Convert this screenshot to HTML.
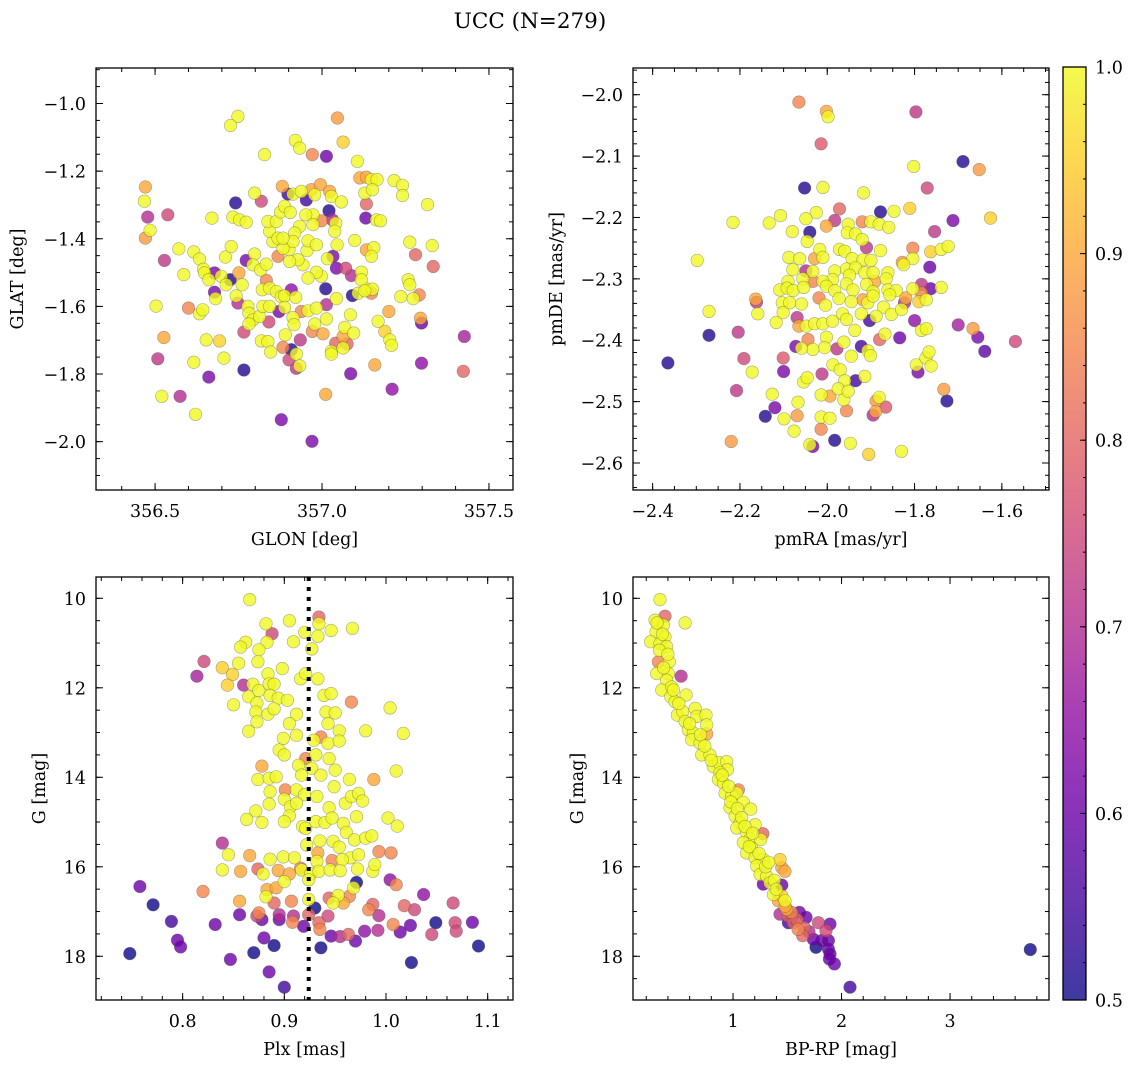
<!DOCTYPE html>
<html><head><meta charset="utf-8"><title>UCC (N=279)</title>
<style>
html,body{margin:0;padding:0;background:#fff;}
svg{display:block;font-family:"DejaVu Serif","Liberation Serif",serif;}
</style></head>
<body>
<svg id="fig" xmlns="http://www.w3.org/2000/svg" width="1136" height="1067" viewBox="0 0 1136 1067">
<text x="530" y="28" font-size="21.5" text-anchor="middle">UCC (N=279)</text>
</svg>
<script>
// ---- data: [glon, glat, prob]
const skyStars = [[356.748,-1.038,1],[356.726,-1.065,1],[357.046,-1.043,.88],[357.063,-1.114,.95],[356.920,-1.109,1],[356.933,-1.132,1],[356.971,-1.151,.85],[357.013,-1.156,.6],[356.828,-1.151,1],[357.106,-1.171,1],[356.471,-1.247,.9],[356.468,-1.289,1],[356.478,-1.336,.7],[356.485,-1.375,1],[356.471,-1.398,.88],[356.538,-1.329,.75],[356.528,-1.464,.72],[356.571,-1.430,1],[356.586,-1.506,1],[356.503,-1.599,1],[356.526,-1.692,.9],[356.508,-1.755,.72],[356.520,-1.866,1],[356.575,-1.866,.7],[356.621,-1.919,1],[356.616,-1.765,1],[356.661,-1.809,.62],[356.600,-1.605,.85],[356.633,-1.622,1],[356.643,-1.610,1],[356.653,-1.699,1],[356.693,-1.702,.95],[356.706,-1.753,1],[356.766,-1.788,.52],[356.616,-1.439,1],[356.633,-1.460,1],[356.645,-1.490,1],[356.648,-1.501,1],[356.661,-1.521,1],[356.678,-1.501,.62],[356.698,-1.511,1],[356.678,-1.558,.62],[356.681,-1.577,1],[356.713,-1.536,1],[356.725,-1.521,.52],[356.711,-1.454,1],[356.728,-1.423,1],[356.670,-1.339,1],[356.741,-1.294,.52],[356.733,-1.336,1],[356.753,-1.344,1],[356.773,-1.351,1],[356.798,-1.265,1],[356.818,-1.289,.75],[356.751,-1.501,.9],[356.761,-1.536,1],[356.743,-1.569,1],[356.748,-1.590,.7],[356.778,-1.600,1],[356.781,-1.620,1],[356.793,-1.640,1],[356.781,-1.652,1],[356.766,-1.676,.75],[356.813,-1.630,1],[356.818,-1.702,1],[356.838,-1.704,1],[356.841,-1.646,.75],[356.846,-1.735,1],[356.871,-1.615,.62],[356.823,-1.600,1],[356.843,-1.600,1],[356.773,-1.464,.62],[356.798,-1.445,1],[356.793,-1.477,1],[356.816,-1.492,1],[356.833,-1.475,1],[356.833,-1.523,.85],[356.821,-1.551,1],[356.843,-1.546,1],[356.863,-1.556,1],[356.878,-1.571,1],[356.888,-1.569,1],[356.921,-1.573,1],[356.908,-1.551,.65],[356.888,-1.603,1],[356.913,-1.633,1],[356.916,-1.654,1],[356.890,-1.684,1],[356.883,-1.721,.85],[356.908,-1.728,.52],[356.901,-1.758,.75],[356.923,-1.741,1],[356.933,-1.776,1],[356.923,-1.783,.72],[356.935,-1.699,.72],[356.938,-1.615,.85],[356.958,-1.613,1],[356.983,-1.605,1],[356.971,-1.674,.85],[356.978,-1.652,1],[357.003,-1.681,.9],[357.013,-1.637,1],[357.013,-1.595,.7],[357.043,-1.577,1],[357.011,-1.548,.52],[357.028,-1.733,1],[357.041,-1.709,.8],[357.063,-1.723,1],[357.068,-1.662,1],[357.063,-1.689,.9],[357.075,-1.711,.8],[357.095,-1.679,1],[357.085,-1.625,1],[357.086,-1.799,.62],[357.091,-1.568,.52],[357.108,-1.561,1],[357.133,-1.548,1],[357.148,-1.561,.85],[357.151,-1.549,1],[357.118,-1.499,1],[357.118,-1.521,1],[357.088,-1.509,.7],[357.071,-1.487,.75],[357.043,-1.487,.62],[357.033,-1.452,.62],[357.016,-1.459,1],[356.998,-1.511,1],[356.983,-1.499,1],[356.958,-1.516,1],[356.943,-1.477,1],[356.955,-1.435,1],[356.928,-1.462,1],[356.903,-1.467,1],[356.901,-1.432,1],[356.883,-1.428,1],[356.868,-1.452,.85],[356.853,-1.408,1],[356.843,-1.378,1],[356.838,-1.349,1],[356.863,-1.349,1],[356.876,-1.321,1],[356.888,-1.304,1],[356.905,-1.322,1],[356.881,-1.245,.9],[356.898,-1.268,.55],[356.913,-1.268,1],[356.938,-1.260,1],[356.953,-1.285,.55],[356.968,-1.255,.9],[356.978,-1.270,1],[356.995,-1.240,.9],[357.023,-1.260,.9],[357.028,-1.275,1],[357.058,-1.291,1],[357.021,-1.317,.52],[357.031,-1.344,.7],[357.041,-1.354,1],[357.038,-1.378,1],[357.045,-1.418,1],[356.973,-1.329,1],[356.998,-1.347,.85],[356.951,-1.329,1],[356.933,-1.363,1],[356.918,-1.383,1],[356.913,-1.408,1],[356.958,-1.406,1],[356.983,-1.418,1],[356.973,-1.358,1],[356.868,-1.398,1],[356.883,-1.398,1],[357.113,-1.220,.9],[357.133,-1.218,.9],[357.148,-1.225,1],[357.165,-1.225,1],[357.128,-1.265,1],[357.151,-1.255,1],[357.133,-1.297,.8],[357.131,-1.339,.6],[357.163,-1.344,1],[357.175,-1.347,1],[357.216,-1.228,1],[357.241,-1.242,1],[357.241,-1.272,1],[357.316,-1.299,1],[357.098,-1.405,1],[357.133,-1.433,.9],[357.155,-1.426,1],[357.148,-1.452,1],[357.263,-1.410,1],[357.330,-1.420,1],[357.280,-1.447,.8],[357.333,-1.482,.8],[357.258,-1.521,1],[357.263,-1.536,1],[357.236,-1.571,1],[357.273,-1.577,1],[357.291,-1.566,.85],[357.200,-1.615,.9],[357.168,-1.644,1],[357.188,-1.674,.95],[357.203,-1.699,1],[357.208,-1.715,1],[357.298,-1.649,.6],[357.295,-1.635,.9],[357.158,-1.773,.9],[357.210,-1.845,.65],[357.298,-1.768,.65],[357.426,-1.689,.68],[357.423,-1.792,.8],[356.878,-1.935,.62],[356.970,-1.999,.62],[357.011,-1.860,.9],[357.028,-1.741,1],[357.128,-1.554,1]];

// ---- data: [pmRA, pmDE, prob]
const pmStars = [[-2.065,-2.012,.85],[-2.002,-2.027,.9],[-1.998,-2.036,1],[-2.014,-2.080,.78],[-1.797,-2.028,.72],[-1.689,-2.109,.52],[-1.652,-2.122,.88],[-1.802,-2.117,1],[-1.771,-2.152,.75],[-2.052,-2.152,.52],[-2.010,-2.151,1],[-1.917,-2.160,1],[-1.811,-2.185,.95],[-1.847,-2.190,1],[-1.878,-2.191,.52],[-1.972,-2.186,.8],[-2.025,-2.192,1],[-2.049,-2.202,1],[-2.107,-2.197,1],[-2.133,-2.209,1],[-2.216,-2.208,1],[-1.712,-2.205,.62],[-1.626,-2.201,.95],[-1.754,-2.223,.72],[-1.983,-2.205,.72],[-2.002,-2.214,.9],[-1.952,-2.211,1],[-1.920,-2.207,.85],[-1.900,-2.207,1],[-1.881,-2.211,1],[-1.859,-2.216,1],[-2.080,-2.223,1],[-2.040,-2.224,.52],[-1.954,-2.225,1],[-1.935,-2.227,1],[-2.046,-2.239,1],[-1.920,-2.236,1],[-1.910,-2.249,.72],[-1.804,-2.250,.85],[-1.878,-2.254,1],[-1.763,-2.256,.95],[-1.739,-2.252,1],[-1.723,-2.247,1],[-2.017,-2.252,1],[-1.972,-2.252,1],[-1.960,-2.255,1],[-2.088,-2.265,1],[-2.063,-2.267,1],[-2.029,-2.267,.9],[-2.010,-2.265,1],[-1.943,-2.267,1],[-1.918,-2.269,1],[-1.900,-2.270,1],[-1.804,-2.267,1],[-1.828,-2.273,.88],[-1.825,-2.277,1],[-2.298,-2.270,1],[-1.765,-2.281,.6],[-2.079,-2.285,1],[-2.049,-2.287,.7],[-2.033,-2.288,1],[-1.983,-2.287,1],[-1.956,-2.284,1],[-1.935,-2.282,1],[-1.914,-2.290,1],[-1.895,-2.290,1],[-1.861,-2.290,1],[-1.865,-2.300,1],[-1.891,-2.304,.9],[-1.949,-2.294,1],[-1.988,-2.301,1],[-2.010,-2.304,1],[-2.033,-2.304,.85],[-2.056,-2.300,1],[-2.090,-2.304,1],[-2.109,-2.318,1],[-2.092,-2.315,1],[-2.078,-2.319,1],[-2.054,-2.314,1],[-2.002,-2.312,1],[-1.983,-2.319,1],[-1.956,-2.308,1],[-1.941,-2.318,1],[-1.910,-2.309,1],[-1.895,-2.321,1],[-1.861,-2.318,1],[-1.842,-2.319,1],[-1.804,-2.316,1],[-1.784,-2.309,.72],[-1.763,-2.316,.6],[-1.739,-2.314,1],[-2.164,-2.333,.9],[-2.162,-2.338,.72],[-2.271,-2.353,1],[-2.159,-2.357,1],[-2.103,-2.339,1],[-2.086,-2.339,1],[-2.059,-2.341,1],[-2.019,-2.331,.85],[-2.004,-2.343,1],[-1.973,-2.332,1],[-1.945,-2.337,1],[-1.918,-2.334,.9],[-1.907,-2.339,1],[-1.895,-2.328,1],[-1.871,-2.346,1],[-1.857,-2.326,1],[-1.823,-2.339,.7],[-1.820,-2.331,.9],[-1.790,-2.337,.95],[-1.773,-2.334,1],[-1.784,-2.323,.85],[-2.117,-2.371,1],[-2.101,-2.355,1],[-2.069,-2.363,.72],[-2.065,-2.377,.9],[-2.048,-2.377,1],[-2.029,-2.373,1],[-2.010,-2.373,1],[-1.988,-2.369,1],[-1.965,-2.357,1],[-1.956,-2.366,1],[-1.937,-2.384,1],[-1.922,-2.357,1],[-1.903,-2.368,.55],[-1.888,-2.361,1],[-1.853,-2.358,1],[-1.830,-2.350,1],[-1.800,-2.368,.65],[-1.784,-2.384,1],[-1.773,-2.381,1],[-1.700,-2.375,.68],[-1.666,-2.381,.88],[-1.655,-2.395,.62],[-1.569,-2.402,.75],[-1.639,-2.418,.58],[-1.834,-2.396,.6],[-1.868,-2.390,1],[-1.880,-2.399,.8],[-1.922,-2.410,.55],[-1.907,-2.417,1],[-1.901,-2.425,1],[-1.962,-2.403,1],[-1.978,-2.414,.72],[-2.002,-2.395,1],[-2.006,-2.412,1],[-2.033,-2.415,1],[-2.044,-2.399,.85],[-2.059,-2.413,1],[-2.072,-2.410,.62],[-2.271,-2.392,.52],[-2.204,-2.387,.72],[-2.365,-2.437,.52],[-2.191,-2.430,.75],[-2.172,-2.452,1],[-2.101,-2.429,.78],[-2.100,-2.451,.62],[-1.987,-2.440,1],[-1.970,-2.448,1],[-1.945,-2.426,1],[-2.208,-2.482,.72],[-2.126,-2.488,1],[-2.054,-2.468,1],[-2.046,-2.461,1],[-2.012,-2.455,.72],[-1.960,-2.466,1],[-1.935,-2.466,.55],[-1.914,-2.459,1],[-1.792,-2.452,.62],[-1.796,-2.440,1],[-1.774,-2.429,1],[-1.767,-2.419,1],[-1.762,-2.442,1],[-1.733,-2.480,.88],[-1.726,-2.499,.52],[-2.120,-2.510,.62],[-2.142,-2.524,.52],[-2.099,-2.528,1],[-2.067,-2.501,1],[-2.069,-2.523,.88],[-2.076,-2.548,1],[-2.014,-2.489,1],[-1.994,-2.491,.9],[-1.975,-2.479,1],[-1.962,-2.497,1],[-1.952,-2.483,1],[-1.956,-2.515,.85],[-2.014,-2.525,1],[-1.994,-2.527,1],[-2.014,-2.545,.85],[-1.881,-2.493,1],[-1.888,-2.499,.88],[-1.866,-2.509,.78],[-1.895,-2.522,.7],[-1.889,-2.516,.9],[-2.220,-2.565,.88],[-2.033,-2.573,.62],[-2.040,-2.570,1],[-1.983,-2.563,.52],[-1.947,-2.568,1],[-1.905,-2.586,.95],[-1.830,-2.581,1]];

// ---- data: [Plx, G, prob]
const plxStars = [[0.866,10.03,1],[0.882,10.57,1],[0.905,10.50,1],[0.888,10.79,.75],[0.909,10.97,1],[0.920,10.76,1],[0.934,10.42,.8],[0.934,10.57,1],[0.946,10.72,1],[0.967,10.67,1],[0.933,10.85,1],[0.927,11.13,1],[0.862,10.98,1],[0.857,11.09,1],[0.883,10.98,1],[0.875,11.15,1],[0.874,11.42,1],[0.855,11.45,1],[0.821,11.41,.75],[0.814,11.74,.68],[0.839,11.55,.95],[0.849,11.70,.95],[0.844,11.94,.95],[0.860,11.94,.7],[0.850,12.38,1],[0.865,12.20,1],[0.869,11.92,1],[0.875,12.06,1],[0.884,11.69,1],[0.885,11.91,1],[0.890,11.92,1],[0.886,12.17,1],[0.894,12.23,1],[0.903,12.28,1],[0.898,11.57,1],[0.916,11.80,1],[0.921,11.68,1],[0.933,11.80,1],[0.873,12.34,1],[0.872,12.54,1],[0.884,12.59,1],[0.890,12.47,1],[0.873,12.76,1],[0.865,12.97,1],[0.939,12.17,1],[0.946,12.13,1],[0.966,12.32,.85],[1.004,12.45,1],[0.941,12.54,1],[0.950,12.56,1],[0.912,12.59,1],[0.905,12.80,1],[0.943,12.80,1],[0.954,12.96,1],[0.912,13.06,1],[0.899,13.13,1],[0.936,13.10,.85],[0.929,13.17,1],[0.943,13.24,1],[0.954,13.19,1],[0.980,12.96,1],[1.017,13.02,1],[0.895,13.39,1],[0.900,13.50,1],[0.921,13.58,.85],[0.931,13.50,1],[0.944,13.58,1],[0.914,13.73,1],[0.927,13.80,1],[0.950,13.84,1],[0.878,13.75,.9],[0.874,14.05,1],[0.885,14.02,1],[0.892,13.99,1],[0.917,13.95,1],[0.936,13.95,1],[0.964,14.05,1],[0.988,14.05,.9],[1.010,13.86,1],[0.901,14.28,.85],[0.912,14.28,1],[0.920,14.39,1],[0.932,14.43,1],[0.949,14.21,1],[0.886,14.32,1],[0.900,14.49,1],[0.885,14.60,1],[0.906,14.66,1],[0.912,14.58,1],[0.944,14.68,1],[0.960,14.58,1],[0.966,14.43,1],[0.973,14.36,1],[0.977,14.53,1],[0.905,14.86,1],[0.900,14.99,1],[0.863,14.94,1],[0.872,14.75,1],[0.878,15.01,1],[0.918,15.10,1],[0.921,15.14,1],[0.931,14.99,1],[0.940,15.01,1],[0.947,14.91,1],[0.958,15.03,1],[0.971,14.88,1],[1.002,14.91,1],[1.011,15.09,1],[0.961,15.23,1],[0.935,15.42,1],[0.948,15.43,1],[0.969,15.40,1],[0.980,15.36,1],[0.986,15.31,1],[0.922,15.51,1],[0.933,15.69,.9],[0.954,15.56,1],[0.965,15.80,1],[0.973,15.73,1],[0.993,15.66,.85],[1.005,15.69,.85],[0.839,15.47,.7],[0.845,15.73,1],[0.866,15.75,.9],[0.886,15.83,1],[0.899,15.78,1],[0.910,15.80,1],[0.916,16.03,.85],[0.932,15.88,1],[0.947,15.86,.85],[0.957,15.84,1],[0.839,16.07,1],[0.857,16.10,.9],[0.874,16.05,.8],[0.879,16.16,1],[0.894,16.08,.9],[0.905,16.16,.9],[0.917,16.07,1],[0.926,16.16,1],[0.934,16.10,1],[0.945,16.07,1],[0.955,16.09,1],[0.972,16.05,1],[0.987,16.10,1],[0.989,15.95,1],[0.900,16.33,1],[0.924,16.29,1],[0.971,16.35,.5],[0.968,16.47,1],[1.004,16.29,.65],[1.010,16.40,.85],[0.758,16.44,.6],[0.771,16.85,.5],[0.820,16.55,.85],[0.883,16.51,.9],[0.892,16.47,.9],[0.882,16.67,1],[0.856,16.77,.9],[0.890,16.81,.8],[0.907,16.77,.85],[0.924,16.73,1],[0.944,16.70,.8],[0.953,16.64,1],[0.964,16.66,.85],[0.948,16.81,1],[0.958,16.81,.9],[1.037,16.62,.65],[1.066,16.81,.75],[0.987,16.84,.8],[1.018,16.87,.8],[1.028,16.96,.75],[0.983,16.96,.85],[0.789,17.22,.55],[0.832,17.29,.6],[0.856,17.07,.6],[0.875,17.03,.85],[0.873,17.10,.75],[0.878,17.18,.6],[0.895,17.18,.6],[0.895,17.07,.7],[0.909,17.10,.7],[0.908,17.24,.85],[0.919,17.33,.6],[0.924,17.07,.8],[0.930,16.92,.5],[0.934,17.25,.8],[0.943,17.10,.75],[0.935,17.40,.85],[0.946,17.55,.6],[0.955,17.56,.7],[0.963,17.51,.8],[0.970,17.66,.6],[0.979,17.44,.65],[0.992,17.42,.7],[0.993,17.09,.7],[1.007,17.29,.85],[1.014,17.46,.6],[1.024,17.31,.6],[1.045,17.51,.75],[1.049,17.25,.5],[1.068,17.25,.75],[1.069,17.44,.75],[1.085,17.24,.6],[1.091,17.77,.5],[1.025,18.14,.5],[0.795,17.64,.6],[0.798,17.79,.6],[0.748,17.94,.5],[0.847,18.07,.6],[0.870,17.92,.5],[0.880,17.59,.6],[0.890,17.76,.5],[0.885,18.35,.6],[0.900,18.69,.55],[0.936,17.81,.5]];
const plxMedian = [0.924];

// ---- data: [BP-RP, G, prob]
const cmdStars = [[0.327,10.03,1],[0.373,10.40,.8],[0.281,10.49,1],[0.358,10.60,1],[0.558,10.55,1],[0.290,10.75,1],[0.373,10.86,1],[0.241,10.97,1],[0.327,11.01,1],[0.388,11.08,1],[0.321,11.16,1],[0.413,11.42,1],[0.312,11.42,.85],[0.296,11.68,1],[0.404,11.68,1],[0.521,11.74,.7],[0.388,11.83,1],[0.343,12.05,1],[0.435,11.98,1],[0.567,12.16,1],[0.426,12.20,1],[0.466,12.31,1],[0.487,12.61,1],[0.536,12.53,1],[0.558,12.75,1],[0.650,12.46,1],[0.665,12.64,1],[0.751,12.61,1],[0.757,12.83,1],[0.588,12.94,1],[0.634,13.01,1],[0.757,13.03,.9],[0.619,13.16,1],[0.696,13.24,1],[0.711,13.50,1],[0.788,13.50,1],[0.818,13.76,1],[0.865,13.67,1],[0.941,13.65,1],[0.948,13.83,1],[0.880,13.90,1],[0.865,14.05,1],[0.911,14.13,1],[1.049,14.28,.85],[0.926,14.35,1],[0.988,14.42,1],[1.034,14.35,1],[1.095,14.56,1],[1.163,14.71,1],[0.972,14.68,1],[1.019,14.87,1],[1.064,15.02,1],[1.034,15.13,1],[1.126,15.24,1],[1.203,15.06,1],[1.274,15.26,.8],[1.156,15.38,1],[1.255,15.39,1],[1.095,15.46,1],[1.172,15.58,1],[1.126,15.69,1],[1.203,15.80,1],[1.279,15.84,1],[1.433,15.84,.95],[1.449,16.02,.9],[1.479,16.10,.9],[1.218,15.98,1],[1.249,16.17,1],[1.310,16.21,1],[1.341,16.36,1],[1.449,16.41,.6],[1.279,16.39,.6],[1.372,16.62,1],[1.418,16.76,.9],[1.479,16.76,1],[1.494,16.95,.9],[1.433,17.06,.7],[1.510,17.10,.8],[1.612,17.02,.6],[1.673,17.13,.6],[1.556,17.25,.8],[1.655,17.36,.8],[1.787,17.25,.75],[1.894,17.28,.6],[1.857,17.43,.75],[1.510,17.25,.55],[1.642,17.54,.8],[1.740,17.62,.6],[1.765,17.80,.5],[1.817,17.65,.6],[1.879,17.65,.6],[1.879,17.84,.6],[1.894,17.95,.6],[1.888,18.06,.6],[1.934,18.17,.6],[2.078,18.69,.55],[3.74,17.85,.5],
[0.300,10.55,1],[0.350,10.80,1],[0.400,11.25,1],[0.360,11.55,1],[0.450,12.05,1],[0.500,12.35,1],[0.600,12.80,1],[0.700,13.05,1],[0.740,13.30,1],[0.800,13.62,1],[0.900,13.95,1],[0.960,14.20,1],[0.980,14.55,1],[1.040,14.70,1],[1.080,14.90,1],[1.110,15.10,1],[1.180,15.25,1],[1.150,15.55,1],[1.240,15.70,1],[1.300,16.00,1],[1.330,15.90,1],[1.380,16.30,1],[1.400,16.50,1],[1.450,16.65,.95],[1.480,16.88,.9],[1.540,17.02,.85],[1.590,17.18,.8],[1.700,17.45,.7],[1.600,17.40,.85],[1.540,17.15,.6]];

// ---- tick/colorbar data
const cbarTicks = [0.5,0.6,0.7,0.8,0.9,1.0];
const cbarRange = [0.5,1.0];

const NS='http://www.w3.org/2000/svg';
const svg=document.getElementById('fig');
function el(tag,attrs,parent){const e=document.createElementNS(NS,tag);for(const k in attrs)e.setAttribute(k,attrs[k]);(parent||svg).appendChild(e);return e;}
function lin(d0,d1,p0,p1){return v=>p0+(v-d0)*(p1-p0)/(d1-d0);}

const plasmaStops=['#0d0887','#41049d','#6a00a8','#8f0da4','#b12a90','#cc4778','#e16462','#f2844b','#fca636','#fcce25','#f0f921'];
function hex(h){return [parseInt(h.slice(1,3),16),parseInt(h.slice(3,5),16),parseInt(h.slice(5,7),16)];}
function plasma(p){let t=(p-cbarRange[0])/(cbarRange[1]-cbarRange[0]);t=Math.max(0,Math.min(1,t));const f=t*10,i=Math.min(9,Math.floor(f)),r=f-i;const a=hex(plasmaStops[i]),b=hex(plasmaStops[i+1]);return 'rgb('+a.map((v,k)=>Math.round(v+(b[k]-v)*r)).join(',')+')';}
const fmtMinus=s=>s.replace('-','\u2212');

const TICKFS=17.5, LABFS=17.5;
function panel(cfg){
  const g=el('g',{});
  
  
  const [px0,px1,py0,py1]=cfg.box;
  const X=lin(cfg.xd[0],cfg.xd[1],px0,px1), Y=lin(cfg.yd[0],cfg.yd[1],py0,py1);
  const clipId='clip-'+cfg.name;
  const cp=el('clipPath',{id:clipId},g); el('rect',{x:px0,y:py0,width:px1-px0,height:py1-py0},cp);
  const pts=el('g',{'clip-path':'url(#'+clipId+')'},g);
  
  
  const sorted=cfg.data.slice().sort((a,b)=>a[2]-b[2]);
  for(const d of sorted){
    const c=el('circle',{cx:X(d[0]).toFixed(1),cy:Y(d[1]).toFixed(1),r:6.3,fill:plasma(d[2]),'fill-opacity':0.8,stroke:'rgba(70,70,70,0.45)','stroke-width':0.6},pts);
    
    
  }
  if(cfg.vline){
    for(const v of cfg.vline){
      const l=el('line',{x1:X(v),x2:X(v),y1:py0,y2:py1,stroke:'#000','stroke-width':4,'stroke-dasharray':'4 6'},g);
      
      
    }
  }
  const fr=el('rect',{x:px0,y:py0,width:px1-px0,height:py1-py0,fill:'none',stroke:'#000','stroke-width':1.3},g);
  
  
  const tk=el('g',{stroke:'#000','stroke-width':1},g);
  const lo=Math.min(...cfg.xd),hi=Math.max(...cfg.xd);
  for(let v=Math.ceil(lo/cfg.xminor-1e-6)*cfg.xminor;v<=hi+1e-9;v+=cfg.xminor){const x=X(v);el('line',{x1:x,x2:x,y1:py1,y2:py1-4},tk);el('line',{x1:x,x2:x,y1:py0,y2:py0+4},tk);}
  const ylo=Math.min(...cfg.yd),yhi=Math.max(...cfg.yd);
  for(let v=Math.ceil(ylo/cfg.yminor-1e-6)*cfg.yminor;v<=yhi+1e-9;v+=cfg.yminor){const y=Y(v);el('line',{x1:px0,x2:px0+4,y1:y,y2:y},tk);el('line',{x1:px1,x2:px1-4,y1:y,y2:y},tk);}
  const xl=el('g',{},g);
  for(const v of cfg.xticks){const x=X(v);el('line',{x1:x,x2:x,y1:py1,y2:py1-7},tk);el('line',{x1:x,x2:x,y1:py0,y2:py0+7},tk);
    const t=el('text',{x:x,y:py1+27,'font-size':TICKFS,'text-anchor':'middle'},xl);t.textContent=fmtMinus(v.toFixed(cfg.xdec));}
  const yl=el('g',{},g);
  for(const v of cfg.yticks){const y=Y(v);el('line',{x1:px0,x2:px0+7,y1:y,y2:y},tk);el('line',{x1:px1,x2:px1-7,y1:y,y2:y},tk);
    const t=el('text',{x:px0-10,y:y+6.5,'font-size':TICKFS,'text-anchor':'end'},yl);t.textContent=fmtMinus(v.toFixed(cfg.ydec));}
  const xt=el('text',{x:(px0+px1)/2,y:py1+55,'font-size':LABFS,'text-anchor':'middle'},g);xt.textContent=cfg.xlabel;
  
  const yt=el('text',{x:0,y:0,'font-size':LABFS,'text-anchor':'middle',transform:'translate('+cfg.ylabx+','+((py0+py1)/2)+') rotate(-90)'},g);yt.textContent=cfg.ylabel;
  
}

panel({name:'sky-panel',box:[96,513,68,490],xd:[356.323,357.572],yd:[-0.895,-2.143],data:skyStars,
  xticks:[356.5,357.0,357.5],xminor:0.1,xdec:1,yticks:[-1.0,-1.2,-1.4,-1.6,-1.8,-2.0],yminor:0.05,ydec:1,
  xlabel:'GLON [deg]',ylabel:'GLAT [deg]',ylabx:23});
panel({name:'proper-motion-panel',box:[633,1049,68,490],xd:[-2.445,-1.492],yd:[-1.9565,-2.644],data:pmStars,
  xticks:[-2.4,-2.2,-2.0,-1.8,-1.6],xminor:0.05,xdec:1,yticks:[-2.0,-2.1,-2.2,-2.3,-2.4,-2.5,-2.6],yminor:0.02,ydec:1,
  xlabel:'pmRA [mas/yr]',ylabel:'pmDE [mas/yr]',ylabx:562});
panel({name:'parallax-panel',box:[96,513,577,1000],xd:[0.7148,1.1249],yd:[9.524,18.977],data:plxStars,vline:plxMedian,
  xticks:[0.8,0.9,1.0,1.1],xminor:0.02,xdec:1,yticks:[10,12,14,16,18],yminor:0.5,ydec:0,
  xlabel:'Plx [mas]',ylabel:'G [mag]',ylabx:45});
panel({name:'cmd-panel',box:[633,1049,577,1000],xd:[0.078,3.912],yd:[9.524,18.977],data:cmdStars,
  xticks:[1,2,3],xminor:0.2,xdec:0,yticks:[10,12,14,16,18],yminor:0.5,ydec:0,
  xlabel:'BP-RP [mag]',ylabel:'G [mag]',ylabx:583});

(function(){
  const g=el('g',{});
  const x0=1063,x1=1086,y0=67,y1=1000;
  const C=lin(cbarRange[0],cbarRange[1],y1,y0);
  const defs=el('defs',{},g);
  const lg=el('linearGradient',{id:'cbgrad',x1:0,y1:1,x2:0,y2:0},defs);
  plasmaStops.forEach((c,i)=>el('stop',{offset:(i/10),'stop-color':c},lg));
  el('rect',{x:x0,y:y0,width:x1-x0,height:y1-y0,fill:'url(#cbgrad)','fill-opacity':0.8},g);
  el('rect',{x:x0,y:y0,width:x1-x0,height:y1-y0,fill:'none',stroke:'#000','stroke-width':1.3},g);
  for(let v=cbarRange[0];v<=cbarRange[1]+1e-9;v+=0.02){const y=C(v);el('line',{x1:x1,x2:x1-3,y1:y,y2:y,stroke:'#000'},g);}
  for(const v of cbarTicks){const y=C(v);el('line',{x1:x1,x2:x1-6,y1:y,y2:y,stroke:'#000'},g);
    const t=el('text',{x:x1+9,y:y+6.5,'font-size':TICKFS},g);t.textContent=v.toFixed(1);
    }
})();
</script>
</body></html>
